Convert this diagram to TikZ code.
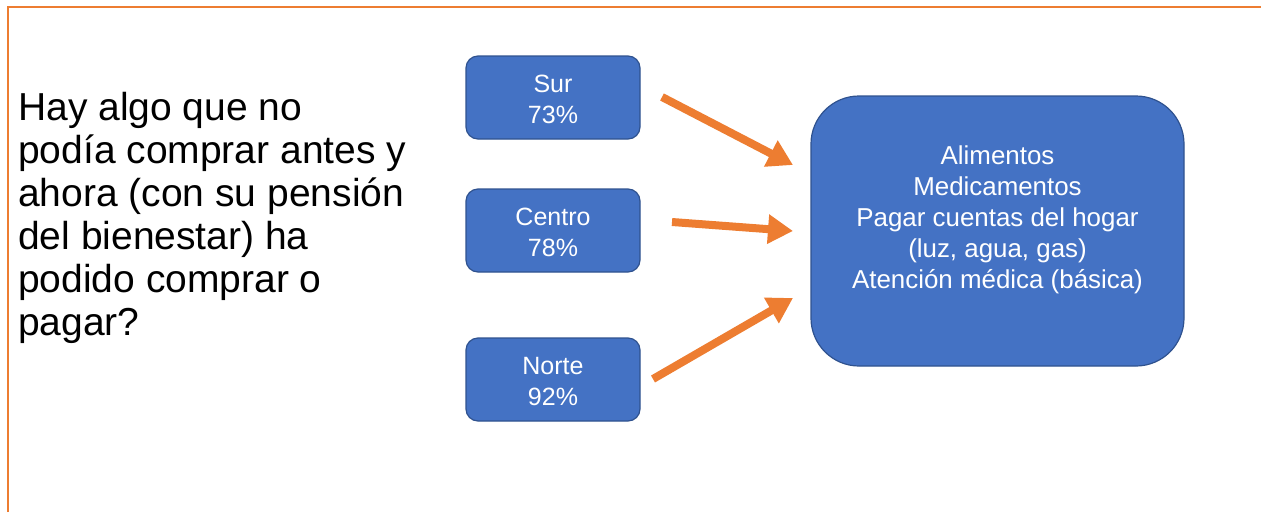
\documentclass[tikz,border=0pt]{standalone}
\usepackage{fontspec}
\setmainfont{Liberation Sans}
\usetikzlibrary{arrows.meta}
\definecolor{boxblue}{HTML}{4472C4}
\definecolor{boxedge}{HTML}{2F528F}
\definecolor{accent}{HTML}{ED7D31}
\newcommand{\boxstrut}{\rule{0pt}{22pt}}
\tikzset{
  smallbox/.style={draw=boxedge, line width=1.2pt, fill=boxblue, rounded corners=12pt,
    minimum width=174pt, minimum height=83pt, text=white, align=center,
    font=\fontsize{25}{31}\selectfont, inner sep=0pt},
  bigbox/.style={draw=boxedge, line width=1.2pt, fill=boxblue, rounded corners=48pt,
    minimum width=373pt, minimum height=270pt, inner sep=0pt},
  bigtext/.style={text=white, align=center, font=\fontsize{25.9}{31}\selectfont, inner sep=0pt},
  fatarrow/.style={draw=accent, line width=8pt, -{Triangle[length=25pt,width=28pt]}},
  frameline/.style={draw=accent, line width=2pt}
}
\begin{document}
\begin{tikzpicture}[x=1pt,y=-1pt]
\useasboundingbox (0,0) rectangle (1261,512);
\coordinate (fbl) at (8,512);
\coordinate (ftl) at (8,6.5);
\coordinate (ftr) at (1261,6.5);
\draw[frameline] (fbl) -- (ftl) -- (ftr);

\node[anchor=north west, align=left, inner sep=0pt, font=\fontsize{39}{43}\selectfont] (question) at (18,92)
  {Hay algo que no\\podía comprar antes y\\ahora (con su pensión\\del bienestar) ha\\podido comprar o\\pagar?};

\node[smallbox] (sur) at (553,97.5) {\boxstrut Sur\\73\%};
\node[smallbox] (centro) at (553,230.5) {\boxstrut Centro\\78\%};
\node[smallbox] (norte) at (553,379.5) {\boxstrut Norte\\92\%};

\node[bigbox] (big) at (997.5,231) {};
\node[bigtext] (bigt) at (997.5,220) {Alimentos\\Medicamentos\\Pagar cuentas del hogar\\(luz, agua, gas)\\Atención médica (básica)};

\coordinate (s1) at (662,97);
\coordinate (s2) at (793,165);
\coordinate (c1) at (672,222);
\coordinate (c2) at (793,231);
\coordinate (n1) at (653,379);
\coordinate (n2) at (793,298);
\draw[fatarrow] (s1) -- (s2);
\draw[fatarrow] (c1) -- (c2);
\draw[fatarrow] (n1) -- (n2);
\end{tikzpicture}
\end{document}
